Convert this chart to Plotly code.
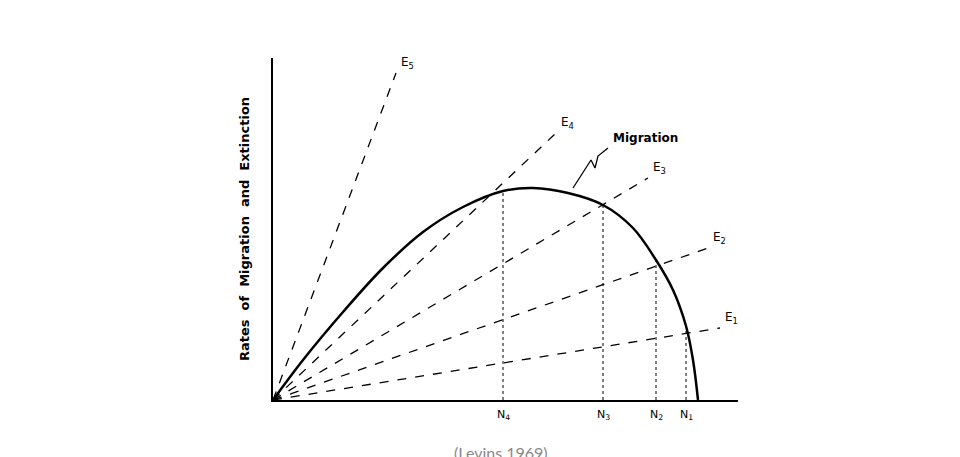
import plotly.graph_objects as go

# Migration curve (arbitrary units: N on x, rate on y)
curve_x = [0, 30, 70, 110, 150, 190, 230, 260, 295, 330, 360, 383, 400, 413, 420, 425]
curve_y = [0, 40, 88, 132, 168, 193, 209, 212, 207, 195, 172, 140, 110, 74, 40, 0]
# Extinction lines E1..E5 (end points)
e_names = ["E1", "E2", "E3", "E4", "E5"]
e_end_x = [447, 435, 375, 283, 123]
e_end_y = [72, 152, 222, 267, 327]
# Equilibria
n_names = ["N1", "N2", "N3", "N4"]
n_x = [413, 383, 330, 230]
n_y = [74, 140, 195, 209]

fig = go.Figure()
fig.add_trace(go.Scatter(x=curve_x, y=curve_y, mode="lines", line=dict(color="black", width=2.5, shape="spline", smoothing=1.0), hoverinfo="skip"))
for n, ex, ey in zip(e_names, e_end_x, e_end_y):
    fig.add_trace(go.Scatter(x=[0, ex], y=[0, ey], mode="lines", line=dict(color="black", width=1.3, dash="dash"), hoverinfo="skip"))
    fig.add_annotation(x=ex, y=ey, text="E<sub>" + n[1] + "</sub>", showarrow=False, xanchor="left", yanchor="bottom", xshift=3, font=dict(size=12, color="black", family="DejaVu Sans"))
for n, x, y in zip(n_names, n_x, n_y):
    fig.add_trace(go.Scatter(x=[x, x], y=[0, y], mode="lines", line=dict(color="black", width=1, dash="dot"), hoverinfo="skip"))
    fig.add_annotation(x=x, y=0, text="N<sub>" + n[1] + "</sub>", showarrow=False, yanchor="top", yshift=-6, font=dict(size=11, color="black", family="DejaVu Sans"))
# squiggle pointer to curve
sq_x = [300, 310, 318, 322, 325, 335]
sq_y = [212, 228, 240, 232, 244, 252]
fig.add_trace(go.Scatter(x=sq_x, y=sq_y, mode="lines", line=dict(color="black", width=1.3), hoverinfo="skip"))
fig.add_annotation(x=338, y=262, text="<b>Migration</b>", showarrow=False, xanchor="left", font=dict(size=12, color="black", family="DejaVu Sans"))

fig.update_layout(
    width=960, height=457, showlegend=False,
    plot_bgcolor="white", paper_bgcolor="white",
    margin=dict(l=265, r=230, t=50, b=65),
    xaxis=dict(range=[0, 465], showgrid=False, zeroline=False, showticklabels=False, ticks="",
               showline=True, linecolor="black", linewidth=2, automargin=False),
    yaxis=dict(range=[0, 342], showgrid=False, zeroline=False, showticklabels=False, ticks="",
               showline=True, linecolor="black", linewidth=2, automargin=False,
               title=dict(text="<b>Rates  of  Migration  and  Extinction</b>", font=dict(size=13, color="black", family="DejaVu Sans"), standoff=18)),
)
fig.add_annotation(x=0.5, y=-0.12, xref="paper", yref="paper", text="(Levins 1969)", showarrow=False,
                   yanchor="top", xshift=-5, font=dict(size=16, color="#888888", family="Lato"))
fig.write_html("out.html")
